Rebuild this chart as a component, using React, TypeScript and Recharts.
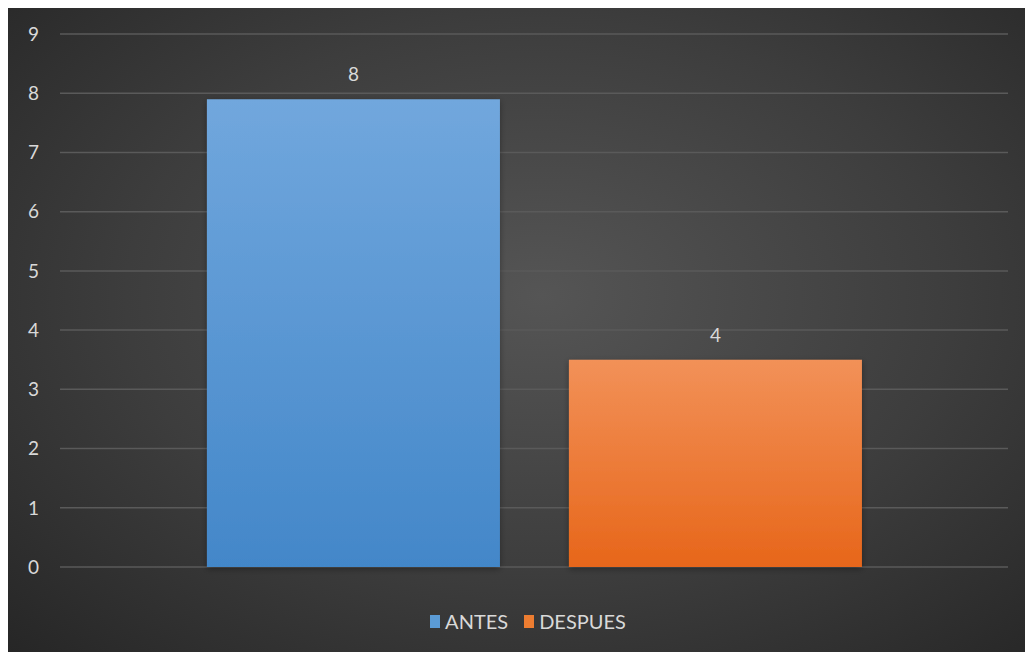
import React from 'react';
import { BarChart, Bar, XAxis, YAxis, CartesianGrid, Legend, LabelList } from 'recharts';

const categories = [''];
const antes = [7.9];
const despues = [3.5];
const yTicks = [0, 1, 2, 3, 4, 5, 6, 7, 8, 9];

const data = categories.map((name, i) => ({ name, ANTES: antes[i], DESPUES: despues[i] }));

const legendItems = [
    { label: 'ANTES', color: '#5b9bd5' },
    { label: 'DESPUES', color: '#ed7d31' },
];

const FONT = 'Lato, "Open Sans", sans-serif';

const LegendContent = () => (
    <div style={{ display: 'flex', justifyContent: 'center', alignItems: 'center', gap: 16, paddingLeft: 40, fontFamily: FONT, fontSize: 20, color: '#d9d9d9', lineHeight: '22px' }}>
        {legendItems.map((item) => (
            <span key={item.label} style={{ display: 'flex', alignItems: 'center' }}>
                <span style={{ display: 'inline-block', width: 10, height: 13, background: item.color, marginRight: 5 }} />
                {item.label}
            </span>
        ))}
    </div>
);

export default function App() {
    return (
        <div
            style={{
                position: 'relative',
                top: -3,
                width: 1025,
                height: 647,
                background: 'radial-gradient(ellipse at 52% 45%, #555555 0%, #3d3d3d 55%, #262626 100%)',
            }}
        >
            <BarChart
                width={1025}
                height={647}
                data={data}
                margin={{ top: 29, right: 25, bottom: 63, left: 0 }}
                barCategoryGap="15.5%"
                barGap={69}
            >
                <defs>
                    <linearGradient id="gBlue" x1="0" y1="0" x2="0" y2="1">
                        <stop offset="0%" stopColor="#71a7dd" />
                        <stop offset="100%" stopColor="#4387c9" />
                    </linearGradient>
                    <linearGradient id="gOrange" x1="0" y1="0" x2="0" y2="1">
                        <stop offset="0%" stopColor="#f29158" />
                        <stop offset="100%" stopColor="#e7661a" />
                    </linearGradient>
                    <filter id="barShadow" x="-10%" y="-10%" width="120%" height="120%">
                        <feDropShadow dx="0" dy="2" stdDeviation="3" floodColor="#000" floodOpacity="0.35" />
                    </filter>
                </defs>
                <CartesianGrid vertical={false} stroke="#5a5a5a" strokeWidth={1.5} />
                <XAxis dataKey="name" hide />
                <YAxis
                    domain={[0, 9]}
                    ticks={yTicks}
                    width={52}
                    axisLine={false}
                    tickLine={false}
                    tickMargin={15}
                    tick={{ fill: '#d9d9d9', fontSize: 19, fontFamily: FONT }}
                />
                <Legend verticalAlign="bottom" content={<LegendContent />} wrapperStyle={{ bottom: 20 }} />
                <Bar dataKey="ANTES" fill="url(#gBlue)" filter="url(#barShadow)" isAnimationActive={false}>
                    <LabelList dataKey="ANTES" position="top" offset={18} formatter={(v: any) => Math.round(Number(v))} fill="#d9d9d9" fontSize={19} fontFamily={FONT} />
                </Bar>
                <Bar dataKey="DESPUES" fill="url(#gOrange)" filter="url(#barShadow)" isAnimationActive={false}>
                    <LabelList dataKey="DESPUES" position="top" offset={18} formatter={(v: any) => Math.round(Number(v))} fill="#d9d9d9" fontSize={19} fontFamily={FONT} />
                </Bar>
            </BarChart>
        </div>
    );
}
